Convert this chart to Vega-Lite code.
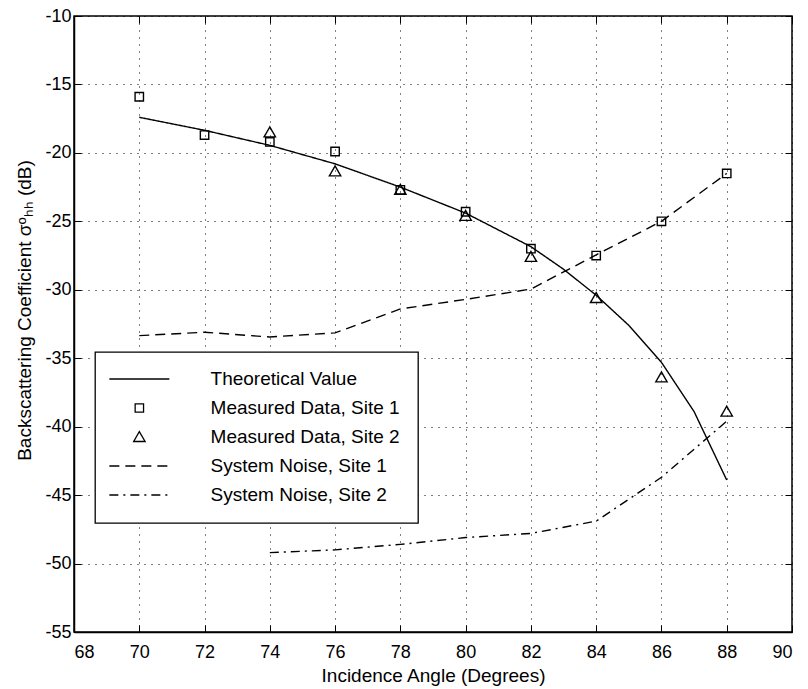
{
  "$schema": "https://vega.github.io/schema/vega-lite/v6.json",
  "width": 718,
  "height": 616,
  "autosize": {"type": "none"},
  "padding": {"left": 74, "top": 16, "right": 16, "bottom": 57},
  "background": "white",
  "config": {
    "view": {"stroke": "black", "strokeWidth": 1.5},
    "font": "Liberation Sans",
    "axis": {
      "domainColor": "black",
      "domainWidth": 1.5,
      "tickColor": "black",
      "tickWidth": 1,
      "labelColor": "black",
      "titleColor": "black",
      "gridColor": "black",
      "gridDash": [1, 6],
      "gridOpacity": 1,
      "gridWidth": 1,
      "labelFont": "Liberation Sans",
      "titleFont": "Liberation Sans",
      "labelFontSize": 18,
      "titleFontSize": 19,
      "titleFontWeight": "normal"
    },
    "legend": {
      "orient": "none",
      "legendX": 21,
      "legendY": 336,
      "padding": 17.5,
      "strokeColor": "black",
      "strokeWidth": 1.3,
      "fillColor": "white",
      "labelFont": "Liberation Sans",
      "labelFontSize": 19,
      "labelColor": "black",
      "labelOffset": 61.7,
      "labelLimit": 400,
      "rowPadding": 9,
      "symbolSize": 100,
      "symbolOffset": 17.35,
      "symbolStrokeWidth": 1.3,
      "symbolStrokeColor": "black",
      "symbolFillColor": "transparent"
    }
  },
  "datasets": {
    "lines": [
      {"series": "Theoretical Value", "angle": 70, "value": -17.4},
      {"series": "Theoretical Value", "angle": 72, "value": -18.35},
      {"series": "Theoretical Value", "angle": 74, "value": -19.45},
      {"series": "Theoretical Value", "angle": 76, "value": -20.8},
      {"series": "Theoretical Value", "angle": 78, "value": -22.5},
      {"series": "Theoretical Value", "angle": 80, "value": -24.4},
      {"series": "Theoretical Value", "angle": 82, "value": -26.85},
      {"series": "Theoretical Value", "angle": 83, "value": -28.5},
      {"series": "Theoretical Value", "angle": 84, "value": -30.4},
      {"series": "Theoretical Value", "angle": 85, "value": -32.6},
      {"series": "Theoretical Value", "angle": 86, "value": -35.3},
      {"series": "Theoretical Value", "angle": 87, "value": -38.9},
      {"series": "Theoretical Value", "angle": 88, "value": -43.9},
      {"series": "System Noise, Site 1", "angle": 70, "value": -33.35},
      {"series": "System Noise, Site 1", "angle": 72, "value": -33.1},
      {"series": "System Noise, Site 1", "angle": 74, "value": -33.45},
      {"series": "System Noise, Site 1", "angle": 76, "value": -33.15},
      {"series": "System Noise, Site 1", "angle": 78, "value": -31.4},
      {"series": "System Noise, Site 1", "angle": 80, "value": -30.7},
      {"series": "System Noise, Site 1", "angle": 82, "value": -29.95},
      {"series": "System Noise, Site 1", "angle": 84, "value": -27.45},
      {"series": "System Noise, Site 1", "angle": 86, "value": -25.0},
      {"series": "System Noise, Site 1", "angle": 88, "value": -21.5},
      {"series": "System Noise, Site 2", "angle": 74, "value": -49.2},
      {"series": "System Noise, Site 2", "angle": 76, "value": -49.0},
      {"series": "System Noise, Site 2", "angle": 78, "value": -48.6},
      {"series": "System Noise, Site 2", "angle": 80, "value": -48.1},
      {"series": "System Noise, Site 2", "angle": 82, "value": -47.8},
      {"series": "System Noise, Site 2", "angle": 84, "value": -46.9},
      {"series": "System Noise, Site 2", "angle": 86, "value": -43.7},
      {"series": "System Noise, Site 2", "angle": 88, "value": -39.6}
    ],
    "points": [
      {"series": "Measured Data, Site 1", "angle": 70, "value": -15.9},
      {"series": "Measured Data, Site 1", "angle": 72, "value": -18.7},
      {"series": "Measured Data, Site 1", "angle": 74, "value": -19.2},
      {"series": "Measured Data, Site 1", "angle": 76, "value": -19.9},
      {"series": "Measured Data, Site 1", "angle": 78, "value": -22.7},
      {"series": "Measured Data, Site 1", "angle": 80, "value": -24.3},
      {"series": "Measured Data, Site 1", "angle": 82, "value": -27.0},
      {"series": "Measured Data, Site 1", "angle": 84, "value": -27.5},
      {"series": "Measured Data, Site 1", "angle": 86, "value": -25.0},
      {"series": "Measured Data, Site 1", "angle": 88, "value": -21.5},
      {"series": "Measured Data, Site 2", "angle": 74, "value": -18.5},
      {"series": "Measured Data, Site 2", "angle": 76, "value": -21.35},
      {"series": "Measured Data, Site 2", "angle": 78, "value": -22.7},
      {"series": "Measured Data, Site 2", "angle": 80, "value": -24.6},
      {"series": "Measured Data, Site 2", "angle": 82, "value": -27.6},
      {"series": "Measured Data, Site 2", "angle": 84, "value": -30.6},
      {"series": "Measured Data, Site 2", "angle": 86, "value": -36.4},
      {"series": "Measured Data, Site 2", "angle": 88, "value": -38.9}
    ]
  },
  "resolve": {"axis": {"x": "independent", "y": "independent"}},
  "layer": [
    {
      "data": {"name": "lines"},
      "mark": {"type": "line", "color": "black", "strokeWidth": 1.4},
      "encoding": {
        "x": {
          "field": "angle", "type": "quantitative",
          "scale": {"domain": [68, 90], "nice": false, "zero": false},
          "axis": {
            "orient": "bottom",
            "title": "Incidence Angle (Degrees)",
            "values": [68, 70, 72, 74, 76, 78, 80, 82, 84, 86, 88, 90],
            "tickSize": -7,
            "labelPadding": 18,
            "titlePadding": 5,
            "grid": true
          }
        },
        "y": {
          "field": "value", "type": "quantitative",
          "scale": {"domain": [-55, -10], "nice": false, "zero": false},
          "axis": {
            "orient": "left",
            "title": "Backscattering Coefficient σᵒₕₕ (dB)",
            "titleX": -50,
            "titleY": 294,
            "titleBaseline": "middle",
            "values": [-55, -50, -45, -40, -35, -30, -25, -20, -15, -10],
            "labelExpr": "toString(datum.value)",
            "tickSize": -7,
            "labelPadding": 10,
            "grid": true
          }
        },
        "detail": {"field": "series"},
        "strokeDash": {
          "field": "series", "type": "nominal",
          "scale": {
            "domain": ["Theoretical Value", "Measured Data, Site 1", "Measured Data, Site 2", "System Noise, Site 1", "System Noise, Site 2"],
            "range": [[1, 0], [1, 0], [1, 0], [10, 6], [9, 5, 2, 5]]
          },
          "legend": {"title": null}
        }
      }
    },
    {
      "data": {"name": "points"},
      "mark": {"type": "point", "filled": false, "color": "black", "strokeWidth": 1.4, "size": 100, "opacity": 1},
      "encoding": {
        "x": {
          "field": "angle", "type": "quantitative",
          "axis": {
            "orient": "top", "title": null, "labels": false, "grid": false,
            "domain": false,
            "values": [68, 70, 72, 74, 76, 78, 80, 82, 84, 86, 88, 90],
            "tickSize": -7
          }
        },
        "y": {
          "field": "value", "type": "quantitative",
          "axis": {
            "orient": "right", "title": null, "labels": false, "grid": false,
            "domain": false,
            "values": [-55, -50, -45, -40, -35, -30, -25, -20, -15, -10],
            "tickSize": -7
          }
        },
        "shape": {
          "field": "series", "type": "nominal",
          "scale": {
            "domain": ["Theoretical Value", "Measured Data, Site 1", "Measured Data, Site 2", "System Noise, Site 1", "System Noise, Site 2"],
            "range": ["M-6,0H6", "M-0.84,-0.84H0.84V0.84H-0.84Z", "M0,-1.08L1.14,0.9L-1.14,0.9Z", "M-6,0H6", "M-6,0H6"]
          },
          "legend": {"title": null}
        },
        "strokeDash": {"field": "series", "type": "nominal", "legend": {"title": null}}
      }
    }
  ]
}
